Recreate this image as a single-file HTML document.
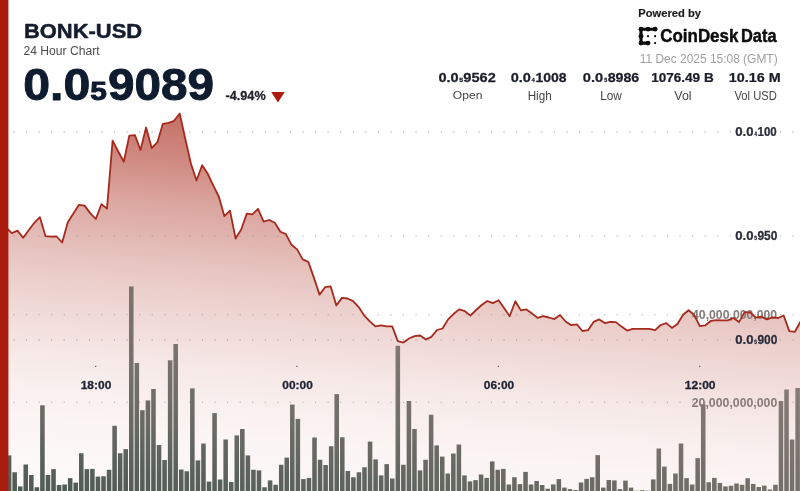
<!DOCTYPE html>
<html><head><meta charset="utf-8"><title>BONK-USD 24 Hour Chart</title>
<style>
html,body{margin:0;padding:0;background:#fff;}
body{width:800px;height:491px;overflow:hidden;font-family:"Liberation Sans",sans-serif;}
svg{display:block;font-family:"Liberation Sans",sans-serif;}
</style></head><body>
<svg width="800" height="491" viewBox="0 0 800 491">
<defs>
<linearGradient id="ag" x1="60" y1="113" x2="25.98" y2="491" gradientUnits="userSpaceOnUse">
<stop offset="0.000" stop-color="#a62414" stop-opacity="0.635"/>
<stop offset="0.019" stop-color="#a62414" stop-opacity="0.61"/>
<stop offset="0.093" stop-color="#a62414" stop-opacity="0.54"/>
<stop offset="0.206" stop-color="#a62414" stop-opacity="0.413"/>
<stop offset="0.339" stop-color="#a62414" stop-opacity="0.295"/>
<stop offset="0.415" stop-color="#a62414" stop-opacity="0.235"/>
<stop offset="0.468" stop-color="#a62414" stop-opacity="0.2"/>
<stop offset="0.532" stop-color="#a62414" stop-opacity="0.165"/>
<stop offset="0.601" stop-color="#a62414" stop-opacity="0.122"/>
<stop offset="0.653" stop-color="#a62414" stop-opacity="0.093"/>
<stop offset="0.759" stop-color="#a62414" stop-opacity="0.06"/>
<stop offset="0.812" stop-color="#a62414" stop-opacity="0.045"/>
<stop offset="1.000" stop-color="#a62414" stop-opacity="0.02"/>
</linearGradient>
<linearGradient id="bv" x1="0" y1="286" x2="0" y2="491" gradientUnits="userSpaceOnUse">
<stop offset="0" stop-color="rgb(168,138,132)" stop-opacity="0.47"/>
<stop offset="0.312" stop-color="rgb(165,140,135)" stop-opacity="0.45"/>
<stop offset="0.654" stop-color="rgb(165,140,135)" stop-opacity="0.27"/>
<stop offset="0.922" stop-color="rgb(165,140,135)" stop-opacity="0.04"/>
<stop offset="1" stop-color="rgb(165,140,135)" stop-opacity="0"/>
</linearGradient>
<linearGradient id="bh" x1="80" y1="0" x2="800" y2="0" gradientUnits="userSpaceOnUse">
<stop offset="0" stop-color="rgb(165,140,135)" stop-opacity="0"/>
<stop offset="1" stop-color="rgb(165,140,135)" stop-opacity="0.43"/>
</linearGradient>
<filter id="bl" filterUnits="userSpaceOnUse" x="-20" y="-20" width="840" height="531"><feGaussianBlur stdDeviation="0.5"/></filter>
</defs>
<g filter="url(#bl)">
<rect x="-20" y="-20" width="840" height="531" fill="#ffffff"/>
<path d="M6.3,228.0 L11.9,233.1 L17.5,230.6 L23.1,237.8 L28.7,230.2 L34.3,222.8 L39.9,217.2 L45.5,236.2 L51.0,236.6 L56.6,236.5 L62.2,242.5 L67.8,222.2 L73.4,213.5 L79.0,204.8 L84.6,205.6 L90.2,213.1 L95.8,219.0 L101.4,204.2 L107.0,208.6 L112.6,140.7 L118.2,151.5 L123.8,161.8 L129.3,135.6 L134.9,135.1 L140.5,150.0 L146.1,127.5 L151.7,148.0 L157.3,142.4 L162.9,123.8 L168.5,122.9 L174.1,120.8 L179.7,113.5 L185.3,139.0 L190.9,163.5 L196.5,180.5 L202.1,165.2 L207.6,173.5 L213.2,185.4 L218.8,196.5 L224.4,216.2 L230.0,210.6 L235.6,238.5 L241.2,229.5 L246.8,213.6 L252.4,214.4 L258.0,208.8 L263.6,221.6 L269.2,220.0 L274.8,222.8 L280.4,231.7 L285.9,234.1 L291.5,244.8 L297.1,249.4 L302.7,259.4 L308.3,261.9 L313.9,277.6 L319.5,294.6 L325.1,287.2 L330.7,286.4 L336.3,305.5 L341.9,297.9 L347.5,298.5 L353.1,301.1 L358.7,307.1 L364.3,315.7 L369.8,321.4 L375.4,326.4 L381.0,325.4 L386.6,326.4 L392.2,326.4 L397.8,341.1 L403.4,342.6 L409.0,338.5 L414.6,336.1 L420.2,335.5 L425.8,339.5 L431.4,336.9 L437.0,330.0 L442.6,328.5 L448.1,319.4 L453.7,313.8 L459.3,309.4 L464.9,311.2 L470.5,315.6 L476.1,310.0 L481.7,305.0 L487.3,301.0 L492.9,303.1 L498.5,300.2 L504.1,308.1 L509.7,316.2 L515.3,301.2 L520.9,310.4 L526.4,309.4 L532.0,313.5 L537.6,317.9 L543.2,316.2 L548.8,317.5 L554.4,319.1 L560.0,315.0 L565.6,321.5 L571.2,325.2 L576.8,324.4 L582.4,331.0 L588.0,330.2 L593.6,321.9 L599.2,319.4 L604.8,323.1 L610.3,321.9 L615.9,322.1 L621.5,326.6 L627.1,330.6 L632.7,328.8 L638.3,328.8 L643.9,328.8 L649.5,328.8 L655.1,330.2 L660.7,325.0 L666.3,323.1 L671.9,327.9 L677.5,324.0 L683.1,314.8 L688.6,310.2 L694.2,315.0 L699.8,326.1 L705.4,325.3 L711.0,320.8 L716.6,320.1 L722.2,320.4 L727.8,320.4 L733.4,318.0 L739.0,322.1 L744.6,312.1 L750.2,312.5 L755.8,317.7 L761.4,316.6 L766.9,319.4 L772.5,317.3 L778.1,318.0 L783.7,315.5 L789.3,331.1 L794.9,331.8 L800.5,321.5 L830,321.5 L830,520 L-20,520 L-20,228.0 Z" fill="url(#ag)"/>
<line x1="13.4" y1="131.9" x2="830" y2="131.9" stroke="#8a8a8a" stroke-width="1.1" stroke-dasharray="1.1 11.467" opacity="0.75"/>
<line x1="13.4" y1="236" x2="830" y2="236" stroke="#8a8a8a" stroke-width="1.1" stroke-dasharray="1.1 11.467" opacity="0.75"/>
<line x1="13.4" y1="314.7" x2="830" y2="314.7" stroke="#8a8a8a" stroke-width="1.1" stroke-dasharray="1.1 11.467" opacity="0.75"/>
<line x1="13.4" y1="339.9" x2="830" y2="339.9" stroke="#8a8a8a" stroke-width="1.1" stroke-dasharray="1.1 11.467" opacity="0.75"/>
<line x1="13.4" y1="402.3" x2="830" y2="402.3" stroke="#8a8a8a" stroke-width="1.1" stroke-dasharray="1.1 11.467" opacity="0.75"/>
<rect x="95.1" y="365.8" width="1.2" height="1.2" fill="#555"/>
<rect x="296.3" y="365.8" width="1.2" height="1.2" fill="#555"/>
<rect x="497.8" y="365.8" width="1.2" height="1.2" fill="#555"/>
<rect x="699.1" y="365.8" width="1.2" height="1.2" fill="#555"/>
<text transform="translate(692.02,319.48) scale(0.9978,1)" font-size="12.30" font-weight="bold" fill="#857b78">40,000,000,000</text>
<text transform="translate(691.77,407.28) scale(1.0007,1)" font-size="12.30" font-weight="bold" fill="#857b78">20,000,000,000</text>
<clipPath id="bc"><rect x="6.82" y="455.40" width="4.55" height="60.60"/><rect x="12.38" y="472.25" width="4.55" height="43.75"/><rect x="17.93" y="486.40" width="4.55" height="29.60"/><rect x="23.48" y="464.50" width="4.55" height="51.50"/><rect x="29.04" y="475.00" width="4.55" height="41.00"/><rect x="34.59" y="487.25" width="4.55" height="28.75"/><rect x="40.14" y="405.30" width="4.55" height="110.70"/><rect x="45.70" y="475.00" width="4.55" height="41.00"/><rect x="51.25" y="469.10" width="4.55" height="46.90"/><rect x="56.80" y="485.00" width="4.55" height="31.00"/><rect x="62.35" y="484.50" width="4.55" height="31.50"/><rect x="67.91" y="478.10" width="4.55" height="37.90"/><rect x="73.46" y="482.60" width="4.55" height="33.40"/><rect x="79.01" y="453.25" width="4.55" height="62.75"/><rect x="84.57" y="469.10" width="4.55" height="46.90"/><rect x="90.12" y="468.90" width="4.55" height="47.10"/><rect x="95.67" y="476.60" width="4.55" height="39.40"/><rect x="101.23" y="476.25" width="4.55" height="39.75"/><rect x="106.78" y="469.75" width="4.55" height="46.25"/><rect x="112.33" y="425.80" width="4.55" height="90.20"/><rect x="117.88" y="453.25" width="4.55" height="62.75"/><rect x="123.44" y="449.10" width="4.55" height="66.90"/><rect x="128.99" y="286.40" width="4.55" height="229.60"/><rect x="134.54" y="363.00" width="4.55" height="153.00"/><rect x="140.10" y="410.20" width="4.55" height="105.80"/><rect x="145.65" y="400.40" width="4.55" height="115.60"/><rect x="151.20" y="389.00" width="4.55" height="127.00"/><rect x="156.76" y="445.00" width="4.55" height="71.00"/><rect x="162.31" y="460.00" width="4.55" height="56.00"/><rect x="167.86" y="360.30" width="4.55" height="155.70"/><rect x="173.41" y="344.00" width="4.55" height="172.00"/><rect x="178.97" y="469.50" width="4.55" height="46.50"/><rect x="184.52" y="471.25" width="4.55" height="44.75"/><rect x="190.07" y="388.40" width="4.55" height="127.60"/><rect x="195.63" y="460.40" width="4.55" height="55.60"/><rect x="201.18" y="443.50" width="4.55" height="72.50"/><rect x="206.73" y="481.60" width="4.55" height="34.40"/><rect x="212.29" y="413.10" width="4.55" height="102.90"/><rect x="217.84" y="479.50" width="4.55" height="36.50"/><rect x="223.39" y="439.50" width="4.55" height="76.50"/><rect x="228.94" y="482.00" width="4.55" height="34.00"/><rect x="234.50" y="435.40" width="4.55" height="80.60"/><rect x="240.05" y="429.00" width="4.55" height="87.00"/><rect x="245.60" y="455.40" width="4.55" height="60.60"/><rect x="251.16" y="469.75" width="4.55" height="46.25"/><rect x="256.71" y="470.40" width="4.55" height="45.60"/><rect x="262.26" y="487.25" width="4.55" height="28.75"/><rect x="267.82" y="480.40" width="4.55" height="35.60"/><rect x="273.37" y="484.75" width="4.55" height="31.25"/><rect x="278.92" y="464.75" width="4.55" height="51.25"/><rect x="284.48" y="457.60" width="4.55" height="58.40"/><rect x="290.03" y="404.60" width="4.55" height="111.40"/><rect x="295.58" y="418.90" width="4.55" height="97.10"/><rect x="301.13" y="479.10" width="4.55" height="36.90"/><rect x="306.69" y="477.90" width="4.55" height="38.10"/><rect x="312.24" y="437.50" width="4.55" height="78.50"/><rect x="317.79" y="459.75" width="4.55" height="56.25"/><rect x="323.35" y="465.00" width="4.55" height="51.00"/><rect x="328.90" y="446.25" width="4.55" height="69.75"/><rect x="334.45" y="394.10" width="4.55" height="121.90"/><rect x="340.01" y="437.25" width="4.55" height="78.75"/><rect x="345.56" y="471.00" width="4.55" height="45.00"/><rect x="351.11" y="477.25" width="4.55" height="38.75"/><rect x="356.66" y="472.25" width="4.55" height="43.75"/><rect x="362.22" y="467.25" width="4.55" height="48.75"/><rect x="367.77" y="441.60" width="4.55" height="74.40"/><rect x="373.32" y="459.40" width="4.55" height="56.60"/><rect x="378.88" y="475.40" width="4.55" height="40.60"/><rect x="384.43" y="464.10" width="4.55" height="51.90"/><rect x="389.98" y="478.50" width="4.55" height="37.50"/><rect x="395.54" y="345.70" width="4.55" height="170.30"/><rect x="401.09" y="464.75" width="4.55" height="51.25"/><rect x="406.64" y="401.00" width="4.55" height="115.00"/><rect x="412.19" y="429.00" width="4.55" height="87.00"/><rect x="417.75" y="470.40" width="4.55" height="45.60"/><rect x="423.30" y="459.75" width="4.55" height="56.25"/><rect x="428.85" y="414.75" width="4.55" height="101.25"/><rect x="434.41" y="445.40" width="4.55" height="70.60"/><rect x="439.96" y="456.60" width="4.55" height="59.40"/><rect x="445.51" y="473.50" width="4.55" height="42.50"/><rect x="451.07" y="453.50" width="4.55" height="62.50"/><rect x="456.62" y="444.50" width="4.55" height="71.50"/><rect x="462.17" y="475.40" width="4.55" height="40.60"/><rect x="467.72" y="481.40" width="4.55" height="34.60"/><rect x="473.28" y="480.10" width="4.55" height="35.90"/><rect x="478.83" y="474.50" width="4.55" height="41.50"/><rect x="484.38" y="477.90" width="4.55" height="38.10"/><rect x="489.94" y="461.40" width="4.55" height="54.60"/><rect x="495.49" y="469.75" width="4.55" height="46.25"/><rect x="501.04" y="468.90" width="4.55" height="47.10"/><rect x="506.60" y="484.50" width="4.55" height="31.50"/><rect x="512.15" y="477.25" width="4.55" height="38.75"/><rect x="517.70" y="484.10" width="4.55" height="31.90"/><rect x="523.25" y="471.90" width="4.55" height="44.10"/><rect x="528.81" y="484.50" width="4.55" height="31.50"/><rect x="534.36" y="481.00" width="4.55" height="35.00"/><rect x="539.91" y="485.00" width="4.55" height="31.00"/><rect x="545.47" y="488.75" width="4.55" height="27.25"/><rect x="551.02" y="484.40" width="4.55" height="31.60"/><rect x="556.57" y="479.10" width="4.55" height="36.90"/><rect x="562.12" y="487.60" width="4.55" height="28.40"/><rect x="567.68" y="489.10" width="4.55" height="26.90"/><rect x="573.23" y="490.00" width="4.55" height="26.00"/><rect x="578.78" y="482.50" width="4.55" height="33.50"/><rect x="584.34" y="478.90" width="4.55" height="37.10"/><rect x="589.89" y="477.25" width="4.55" height="38.75"/><rect x="595.44" y="455.10" width="4.55" height="60.90"/><rect x="601.00" y="487.60" width="4.55" height="28.40"/><rect x="606.55" y="480.00" width="4.55" height="36.00"/><rect x="612.10" y="480.40" width="4.55" height="35.60"/><rect x="617.66" y="489.10" width="4.55" height="26.90"/><rect x="623.21" y="480.60" width="4.55" height="35.40"/><rect x="628.76" y="487.60" width="4.55" height="28.40"/><rect x="634.31" y="490.70" width="4.55" height="25.30"/><rect x="639.87" y="490.20" width="4.55" height="25.80"/><rect x="645.42" y="490.70" width="4.55" height="25.30"/><rect x="650.97" y="479.40" width="4.55" height="36.60"/><rect x="656.53" y="448.50" width="4.55" height="67.50"/><rect x="662.08" y="466.60" width="4.55" height="49.40"/><rect x="667.63" y="483.90" width="4.55" height="32.10"/><rect x="673.19" y="473.50" width="4.55" height="42.50"/><rect x="678.74" y="443.50" width="4.55" height="72.50"/><rect x="684.29" y="478.10" width="4.55" height="37.90"/><rect x="689.84" y="484.50" width="4.55" height="31.50"/><rect x="695.40" y="458.10" width="4.55" height="57.90"/><rect x="700.95" y="404.20" width="4.55" height="111.80"/><rect x="706.50" y="482.25" width="4.55" height="33.75"/><rect x="712.06" y="477.90" width="4.55" height="38.10"/><rect x="717.61" y="482.90" width="4.55" height="33.10"/><rect x="723.16" y="486.40" width="4.55" height="29.60"/><rect x="728.72" y="485.75" width="4.55" height="30.25"/><rect x="734.27" y="483.50" width="4.55" height="32.50"/><rect x="739.82" y="484.75" width="4.55" height="31.25"/><rect x="745.37" y="478.25" width="4.55" height="37.75"/><rect x="750.93" y="483.90" width="4.55" height="32.10"/><rect x="756.48" y="487.00" width="4.55" height="29.00"/><rect x="762.03" y="485.60" width="4.55" height="30.40"/><rect x="767.59" y="489.50" width="4.55" height="26.50"/><rect x="773.14" y="484.75" width="4.55" height="31.25"/><rect x="778.69" y="401.00" width="4.55" height="115.00"/><rect x="784.25" y="389.50" width="4.55" height="126.50"/><rect x="789.80" y="439.50" width="4.55" height="76.50"/><rect x="795.35" y="388.00" width="4.55" height="128.00"/></clipPath>
<g clip-path="url(#bc)"><rect x="-20" y="270" width="840" height="250" fill="rgb(80,92,85)"/><rect x="-20" y="270" width="840" height="250" fill="url(#bv)"/><rect x="-20" y="270" width="840" height="250" fill="url(#bh)"/></g>
<path d="M6.3,228.0 L11.9,233.1 L17.5,230.6 L23.1,237.8 L28.7,230.2 L34.3,222.8 L39.9,217.2 L45.5,236.2 L51.0,236.6 L56.6,236.5 L62.2,242.5 L67.8,222.2 L73.4,213.5 L79.0,204.8 L84.6,205.6 L90.2,213.1 L95.8,219.0 L101.4,204.2 L107.0,208.6 L112.6,140.7 L118.2,151.5 L123.8,161.8 L129.3,135.6 L134.9,135.1 L140.5,150.0 L146.1,127.5 L151.7,148.0 L157.3,142.4 L162.9,123.8 L168.5,122.9 L174.1,120.8 L179.7,113.5 L185.3,139.0 L190.9,163.5 L196.5,180.5 L202.1,165.2 L207.6,173.5 L213.2,185.4 L218.8,196.5 L224.4,216.2 L230.0,210.6 L235.6,238.5 L241.2,229.5 L246.8,213.6 L252.4,214.4 L258.0,208.8 L263.6,221.6 L269.2,220.0 L274.8,222.8 L280.4,231.7 L285.9,234.1 L291.5,244.8 L297.1,249.4 L302.7,259.4 L308.3,261.9 L313.9,277.6 L319.5,294.6 L325.1,287.2 L330.7,286.4 L336.3,305.5 L341.9,297.9 L347.5,298.5 L353.1,301.1 L358.7,307.1 L364.3,315.7 L369.8,321.4 L375.4,326.4 L381.0,325.4 L386.6,326.4 L392.2,326.4 L397.8,341.1 L403.4,342.6 L409.0,338.5 L414.6,336.1 L420.2,335.5 L425.8,339.5 L431.4,336.9 L437.0,330.0 L442.6,328.5 L448.1,319.4 L453.7,313.8 L459.3,309.4 L464.9,311.2 L470.5,315.6 L476.1,310.0 L481.7,305.0 L487.3,301.0 L492.9,303.1 L498.5,300.2 L504.1,308.1 L509.7,316.2 L515.3,301.2 L520.9,310.4 L526.4,309.4 L532.0,313.5 L537.6,317.9 L543.2,316.2 L548.8,317.5 L554.4,319.1 L560.0,315.0 L565.6,321.5 L571.2,325.2 L576.8,324.4 L582.4,331.0 L588.0,330.2 L593.6,321.9 L599.2,319.4 L604.8,323.1 L610.3,321.9 L615.9,322.1 L621.5,326.6 L627.1,330.6 L632.7,328.8 L638.3,328.8 L643.9,328.8 L649.5,328.8 L655.1,330.2 L660.7,325.0 L666.3,323.1 L671.9,327.9 L677.5,324.0 L683.1,314.8 L688.6,310.2 L694.2,315.0 L699.8,326.1 L705.4,325.3 L711.0,320.8 L716.6,320.1 L722.2,320.4 L727.8,320.4 L733.4,318.0 L739.0,322.1 L744.6,312.1 L750.2,312.5 L755.8,317.7 L761.4,316.6 L766.9,319.4 L772.5,317.3 L778.1,318.0 L783.7,315.5 L789.3,331.1 L794.9,331.8 L800.5,321.5" fill="none" stroke="#a52a1e" stroke-width="1.8" stroke-linejoin="round" stroke-linecap="round"/>
<rect x="-20" y="-20" width="28.4" height="531" fill="#aa1b0d"/>
<text transform="translate(23.97,38.05) scale(1.0694,1)" font-size="20.51" font-weight="bold" fill="#141c2e" stroke="#141c2e" stroke-width="0.5" stroke-linejoin="round">BONK-USD</text>
<text transform="translate(23.49,54.60) scale(0.9269,1)" font-size="13.09" font-weight="normal" fill="#4d4d4d">24 Hour Chart</text>
<text transform="translate(23.22,99.86) scale(1.0993,1)" font-size="43.89" font-weight="bold" fill="#0e1a2d" stroke="#0e1a2d" stroke-width="0.9" stroke-linejoin="round">0.0</text>
<text transform="translate(90.15,99.99) scale(1.1736,1)" font-size="25.52" font-weight="bold" fill="#0e1a2d" stroke="#0e1a2d" stroke-width="0.9" stroke-linejoin="round">5</text>
<text transform="translate(107.98,99.86) scale(1.0861,1)" font-size="43.89" font-weight="bold" fill="#0e1a2d" stroke="#0e1a2d" stroke-width="0.9" stroke-linejoin="round">9089</text>
<text transform="translate(225.52,100.47) scale(1.0081,1)" font-size="12.58" font-weight="bold" fill="#22232b" stroke="#22232b" stroke-width="0.25" stroke-linejoin="round">-4.94%</text>
<path d="M271.2,92 L284.7,92 L277.95,102.5 Z" fill="#ac1a0a"/>
<text transform="translate(638.35,16.90) scale(0.9832,1)" font-size="11.35" font-weight="bold" fill="#1c1c1c" stroke="#1c1c1c" stroke-width="0.2" stroke-linejoin="round">Powered by</text>
<g stroke="#0a0a0a" stroke-width="3.1" stroke-linecap="round" fill="none"><path d="M655.1,29.2 L641.0,29.2 L641.0,43.1 L648.0,43.1"/></g>
<g fill="#0a0a0a"><circle cx="641.0" cy="29.2" r="2.4"/><circle cx="648.0" cy="29.2" r="2.4"/><circle cx="655.1" cy="29.2" r="2.4"/><circle cx="641.0" cy="36.2" r="2.4"/><circle cx="641.0" cy="43.1" r="2.4"/><circle cx="648.0" cy="43.1" r="2.4"/><circle cx="648.0" cy="36.2" r="1.1"/><circle cx="655.1" cy="36.2" r="1.1"/><circle cx="655.1" cy="43.1" r="1.1"/></g>
<text transform="translate(660.25,41.77) scale(0.9069,1)" font-size="18.69" font-weight="bold" fill="#0c0c0c" stroke="#0c0c0c" stroke-width="0.45" stroke-linejoin="round">CoinDesk</text>
<text transform="translate(740.92,41.77) scale(0.8796,1)" font-size="18.69" font-weight="bold" fill="#0c0c0c" stroke="#0c0c0c" stroke-width="0.45" stroke-linejoin="round">Data</text>
<text transform="translate(639.70,63.00) scale(0.9343,1)" font-size="12.80" font-weight="normal" fill="#a0a0a0">11 Dec 2025 15:08 (GMT)</text>
<text transform="translate(438.44,82.14) scale(1.1004,1)" font-size="13.22" font-weight="bold" fill="#1b1e2b" stroke="#1b1e2b" stroke-width="0.25" stroke-linejoin="round">0.0</text>
<text transform="translate(459.14,82.19) scale(1.2223,1)" font-size="5.59" font-weight="bold" fill="#1b1e2b" stroke="#1b1e2b" stroke-width="0.3" stroke-linejoin="round">5</text>
<text transform="translate(463.31,82.14) scale(1.1046,1)" font-size="13.22" font-weight="bold" fill="#1b1e2b" stroke="#1b1e2b" stroke-width="0.25" stroke-linejoin="round">9562</text>
<text transform="translate(452.82,99.48) scale(1.0342,1)" font-size="11.73" font-weight="normal" fill="#454545">Open</text>
<text transform="translate(510.64,82.14) scale(1.1004,1)" font-size="13.22" font-weight="bold" fill="#1b1e2b" stroke="#1b1e2b" stroke-width="0.25" stroke-linejoin="round">0.0</text>
<text transform="translate(531.67,82.25) scale(0.9391,1)" font-size="5.67" font-weight="bold" fill="#1b1e2b" stroke="#1b1e2b" stroke-width="0.3" stroke-linejoin="round">4</text>
<text transform="translate(535.45,82.14) scale(1.0604,1)" font-size="13.22" font-weight="bold" fill="#1b1e2b" stroke="#1b1e2b" stroke-width="0.25" stroke-linejoin="round">1008</text>
<text transform="translate(527.64,99.60) scale(0.9684,1)" font-size="12.07" font-weight="normal" fill="#454545">High</text>
<text transform="translate(582.84,82.14) scale(1.1119,1)" font-size="13.22" font-weight="bold" fill="#1b1e2b" stroke="#1b1e2b" stroke-width="0.25" stroke-linejoin="round">0.0</text>
<text transform="translate(604.19,82.19) scale(0.9706,1)" font-size="5.59" font-weight="bold" fill="#1b1e2b" stroke="#1b1e2b" stroke-width="0.3" stroke-linejoin="round">5</text>
<text transform="translate(607.66,82.14) scale(1.0762,1)" font-size="13.22" font-weight="bold" fill="#1b1e2b" stroke="#1b1e2b" stroke-width="0.25" stroke-linejoin="round">8986</text>
<text transform="translate(600.13,99.60) scale(0.9770,1)" font-size="12.07" font-weight="normal" fill="#454545">Low</text>
<text transform="translate(651.18,82.14) scale(1.0249,1)" font-size="13.22" font-weight="bold" fill="#1b1e2b" stroke="#1b1e2b" stroke-width="0.25" stroke-linejoin="round">1076.49 B</text>
<text transform="translate(674.34,99.60) scale(1.0311,1)" font-size="12.07" font-weight="normal" fill="#454545">Vol</text>
<text transform="translate(728.83,82.14) scale(1.0875,1)" font-size="13.22" font-weight="bold" fill="#1b1e2b" stroke="#1b1e2b" stroke-width="0.25" stroke-linejoin="round">10.16 M</text>
<text transform="translate(734.44,99.60) scale(0.9311,1)" font-size="12.07" font-weight="normal" fill="#454545">Vol USD</text>
<text transform="translate(735.30,136.15) scale(1.0585,1)" font-size="12.37" font-weight="bold" fill="#2a2d3a" stroke="#2a2d3a" stroke-width="0.25" stroke-linejoin="round">0.0</text>
<text transform="translate(754.38,136.25) scale(0.8567,1)" font-size="5.24" font-weight="bold" fill="#2a2d3a" stroke="#2a2d3a" stroke-width="0.3" stroke-linejoin="round">4</text>
<text transform="translate(757.50,136.15) scale(0.9326,1)" font-size="12.37" font-weight="bold" fill="#2a2d3a" stroke="#2a2d3a" stroke-width="0.25" stroke-linejoin="round">100</text>
<text transform="translate(735.30,240.25) scale(1.0585,1)" font-size="12.37" font-weight="bold" fill="#2a2d3a" stroke="#2a2d3a" stroke-width="0.25" stroke-linejoin="round">0.0</text>
<text transform="translate(754.31,240.30) scale(0.9347,1)" font-size="5.16" font-weight="bold" fill="#2a2d3a" stroke="#2a2d3a" stroke-width="0.3" stroke-linejoin="round">5</text>
<text transform="translate(757.41,240.25) scale(0.9672,1)" font-size="12.37" font-weight="bold" fill="#2a2d3a" stroke="#2a2d3a" stroke-width="0.25" stroke-linejoin="round">950</text>
<text transform="translate(735.30,344.30) scale(1.0585,1)" font-size="12.37" font-weight="bold" fill="#2a2d3a" stroke="#2a2d3a" stroke-width="0.25" stroke-linejoin="round">0.0</text>
<text transform="translate(754.31,344.35) scale(0.9347,1)" font-size="5.16" font-weight="bold" fill="#2a2d3a" stroke="#2a2d3a" stroke-width="0.3" stroke-linejoin="round">5</text>
<text transform="translate(757.41,344.30) scale(0.9672,1)" font-size="12.37" font-weight="bold" fill="#2a2d3a" stroke="#2a2d3a" stroke-width="0.25" stroke-linejoin="round">900</text>
<text transform="translate(80.70,389.24) scale(1.0496,1)" font-size="11.45" font-weight="bold" fill="#1e2233" stroke="#1e2233" stroke-width="0.3" stroke-linejoin="round">18:00</text>
<text transform="translate(282.37,389.24) scale(1.0400,1)" font-size="11.45" font-weight="bold" fill="#1e2233" stroke="#1e2233" stroke-width="0.3" stroke-linejoin="round">00:00</text>
<text transform="translate(483.77,389.24) scale(1.0400,1)" font-size="11.45" font-weight="bold" fill="#1e2233" stroke="#1e2233" stroke-width="0.3" stroke-linejoin="round">06:00</text>
<text transform="translate(684.80,389.24) scale(1.0496,1)" font-size="11.45" font-weight="bold" fill="#1e2233" stroke="#1e2233" stroke-width="0.3" stroke-linejoin="round">12:00</text>
</g>
</svg>
</body></html>
